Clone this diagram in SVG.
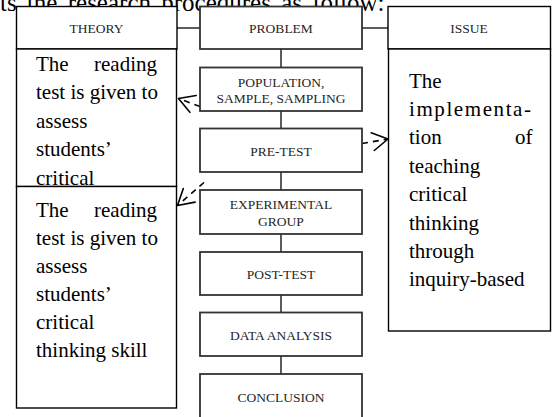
<svg xmlns="http://www.w3.org/2000/svg" width="552" height="417" viewBox="0 0 552 417">
<defs>
<style>
.bg{fill:#ffffff}
.step{fill:#ffffff;stroke:#333333;stroke-width:1.8}
.tbox{fill:#ffffff;stroke:#000000;stroke-width:1.4}
.lbl{font-family:"Liberation Serif","Times New Roman",serif;font-size:13.5px;fill:#262626;text-anchor:middle}
.body{font-family:"Liberation Serif","Times New Roman",serif;font-size:21px;fill:#000000}
.end{text-anchor:end}
.top{font-family:"Liberation Serif","Times New Roman",serif;font-size:25px;fill:#000000;word-spacing:4px}
.link{stroke:#333333;stroke-width:1.6;fill:none}
.dash{stroke:#000000;stroke-width:1.6;fill:none;stroke-dasharray:6 5}
</style>
<marker id="open" markerUnits="userSpaceOnUse" viewBox="-18 -11 20 22" refX="0" refY="0" markerWidth="20" markerHeight="22" orient="auto" overflow="visible">
<path d="M-15.5,-9 L0,0 L-15.5,9" fill="none" stroke="#000000" stroke-width="1.6" stroke-dasharray="none" stroke-linecap="round" stroke-linejoin="round"/>
</marker>
</defs>
<rect class="bg" x="0" y="0" width="552" height="417"/>
<text class="top" x="0" y="11">ts the research procedures as follow:</text>

<g id="connectors">
<line class="link" x1="177" y1="28" x2="200" y2="28"/>
<line class="link" x1="362" y1="28" x2="388" y2="28"/>
<line class="link" x1="281" y1="49" x2="281" y2="67"/>
<line class="link" x1="281" y1="111" x2="281" y2="128"/>
<line class="link" x1="281" y1="172" x2="281" y2="190"/>
<line class="link" x1="281" y1="234" x2="281" y2="252"/>
<line class="link" x1="281" y1="295" x2="281" y2="312"/>
<line class="link" x1="281" y1="356" x2="281" y2="374"/>
<path class="dash" d="M200,106.5 L178.5,98.5" marker-end="url(#open)"/>
<path class="dash" d="M204,182.5 L177.5,205.5" marker-end="url(#open)"/>
<path class="dash" d="M362,143.5 L388,139" marker-end="url(#open)"/>
</g>

<g id="theory">
<rect class="tbox" x="16.5" y="6.5" width="160.5" height="42.5"/>
<text class="lbl" x="96.5" y="33">THEORY</text>
</g>
<g id="theory-note-1">
<rect class="tbox" x="16.5" y="49" width="160" height="137.5"/>
<text class="body" x="36" y="71">The</text>
<text class="body end" x="157" y="71">reading</text>
<text class="body" x="36" y="99.4">test is given to</text>
<text class="body" x="36" y="127.8">assess</text>
<text class="body" x="36" y="156.2">students’</text>
<text class="body" x="36" y="184.6">critical</text>
</g>
<g id="theory-note-2">
<rect class="tbox" x="16.5" y="186.5" width="160" height="221.5"/>
<text class="body" x="36" y="216.7">The</text>
<text class="body end" x="157" y="216.7">reading</text>
<text class="body" x="36" y="244.7">test is given to</text>
<text class="body" x="36" y="272.7">assess</text>
<text class="body" x="36" y="300.7">students’</text>
<text class="body" x="36" y="328.7">critical</text>
<text class="body" x="36" y="356.7">thinking skill</text>
</g>

<g id="problem">
<rect class="step" x="200" y="6.5" width="162" height="42.5"/>
<text class="lbl" x="281" y="33">PROBLEM</text>
</g>
<g id="population">
<rect class="step" x="200" y="67.5" width="162" height="43.5"/>
<text class="lbl" x="281" y="86.5">POPULATION,</text>
<text class="lbl" x="281" y="103">SAMPLE, SAMPLING</text>
</g>
<g id="pre-test">
<rect class="step" x="200" y="128.5" width="162" height="43.5"/>
<text class="lbl" x="281" y="156">PRE-TEST</text>
</g>
<g id="experimental-group">
<rect class="step" x="200" y="190" width="162" height="44"/>
<text class="lbl" x="281" y="208.5">EXPERIMENTAL</text>
<text class="lbl" x="281" y="225.5">GROUP</text>
</g>
<g id="post-test">
<rect class="step" x="200" y="252" width="162" height="43"/>
<text class="lbl" x="281" y="279">POST-TEST</text>
</g>
<g id="data-analysis">
<rect class="step" x="200" y="312.5" width="162" height="43.5"/>
<text class="lbl" x="281" y="340">DATA ANALYSIS</text>
</g>
<g id="conclusion">
<rect class="step" x="200" y="374" width="162" height="60"/>
<text class="lbl" x="281" y="401.5">CONCLUSION</text>
</g>

<g id="issue">
<rect class="tbox" x="388" y="6.5" width="162.5" height="42.5"/>
<text class="lbl" x="469" y="33">ISSUE</text>
</g>
<g id="issue-note">
<rect class="tbox" x="388.5" y="49" width="162" height="282"/>
<text class="body" x="409" y="87.5">The</text>
<text class="body" x="409" y="115.9" textLength="122" lengthAdjust="spacing">implementa-</text>
<text class="body" x="409" y="144.3">tion</text>
<text class="body end" x="532.5" y="144.3">of</text>
<text class="body" x="409" y="172.7">teaching</text>
<text class="body" x="409" y="201.1">critical</text>
<text class="body" x="409" y="229.5">thinking</text>
<text class="body" x="409" y="257.9">through</text>
<text class="body" x="409" y="286.3">inquiry-based</text>
</g>
</svg>
